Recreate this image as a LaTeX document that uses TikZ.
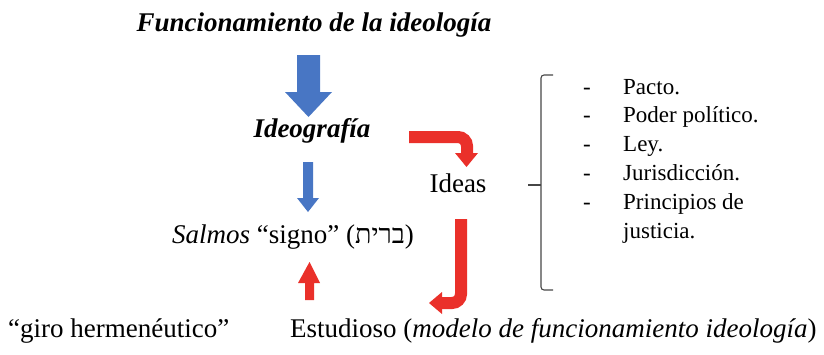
\documentclass[tikz,border=0pt]{standalone}
\usepackage{fontspec}
\setmainfont{LiberationSerif}[Extension=.ttf, UprightFont=*-Regular, BoldFont=*-Bold, ItalicFont=*-Italic, BoldItalicFont=*-BoldItalic]
\newfontfamily\hebfont[Script=Hebrew, Extension=.ttf]{LiberationSerif-Regular}
\TeXXeTstate=1
\definecolor{arrblue}{RGB}{72,118,196}
\definecolor{arrred}{RGB}{234,48,42}
\definecolor{brk}{RGB}{70,70,70}
\begin{document}
\begin{tikzpicture}[x=1pt,y=-1pt,
  big/.style={font=\fontsize{27}{30}\selectfont, inner sep=0pt, anchor=base},
  bigL/.style={big, anchor=base west},
  item/.style={font=\fontsize{23}{26}\selectfont, inner sep=0pt, anchor=base west},
  bluearrow/.style={fill=arrblue},
  redarrow/.style={fill=arrred},
  redshaft/.style={draw=arrred, line width=12pt, rounded corners=9pt}]
\useasboundingbox (0,0) rectangle (824,354);

% texts
\node[big] (title) at (314,31) {\textbf{\textit{Funcionamiento de la ideología}}};
\node[big] (ideo) at (312,137) {\textbf{\textit{Ideografía}}};
\node[big] (ideas) at (458,192) {Ideas};
\node[bigL] (salmos) at (172,243) {\textit{Salmos} “signo” ({\hebfont\beginR ברית\endR})};
\node[bigL] (giro) at (8,337) {“giro hermenéutico”};
\node[bigL] (estud) at (290,337) {Estudioso (\textit{modelo de funcionamiento ideología})};

% list
\foreach \t [count=\i from 0] in {Pacto., Poder político., Ley., Jurisdicción., Principios de} {
  \node[item] (it\i) at (623,94+28.8*\i) {\t};
  \node[item, anchor=base] (d\i) at (587,94+28.8*\i) {-};
}
\node[item] (it5) at (623,94+28.8*5) {justicia.};

% bracket
\draw[brk, line width=1.1pt, rounded corners=3pt] (553,75) -- (541,75) -- (541,290) -- (553,290);
\draw[brk, line width=1.1pt] (541,185) -- (528,185);

% blue arrows
\fill[bluearrow] (297,55) -- (320,55) -- (320,92) -- (332,92) -- (308.5,117) -- (285,92) -- (297,92) -- cycle;
\fill[bluearrow] (303,162) -- (313,162) -- (313,198) -- (319,198) -- (308,212) -- (297,198) -- (303,198) -- cycle;

% red up arrow
\fill[redarrow] (305,300) -- (314,300) -- (314,283) -- (320,283) -- (309.5,262) -- (298,283) -- (305,283) -- cycle;

% red bent arrow 1 (Ideografia -> Ideas)
\draw[redshaft] (409,137) -- (467,137) -- (467,154);
\fill[redarrow] (455,153) -- (478,153) -- (466.5,167) -- cycle;

% red bent arrow 2 (Ideas -> Estudioso)
\draw[redshaft] (461,219) -- (461,303) -- (441,303);
\fill[redarrow] (442,292) -- (442,314) -- (429,303) -- cycle;
\end{tikzpicture}
\end{document}
